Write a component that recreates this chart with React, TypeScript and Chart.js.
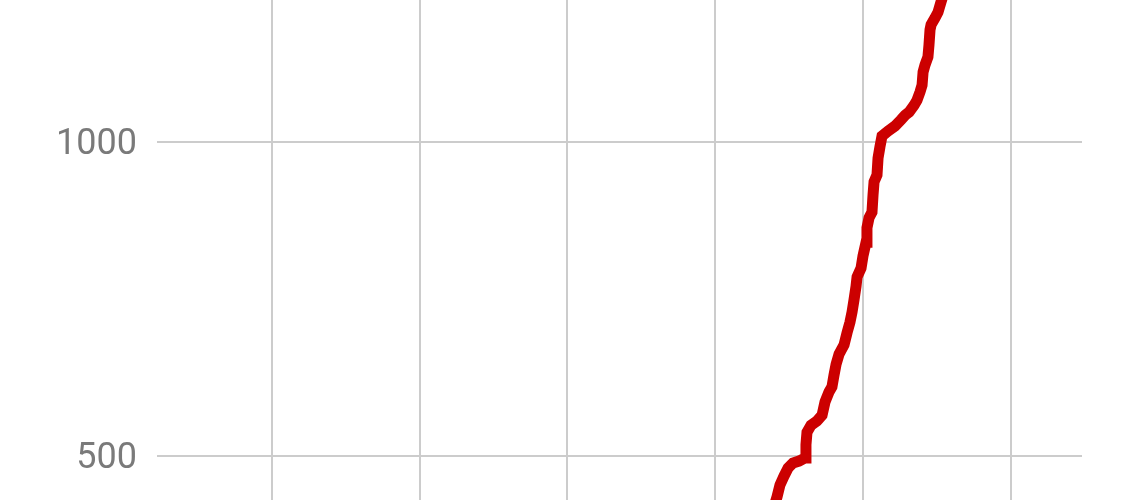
import React, { useEffect, useRef } from 'react';
import Chart from 'chart.js/auto';

// x positions in grid units (one vertical gridline every 100)
const xValues = [
  339.2, 341.9, 343.9, 346.6, 349.4, 352.7, 356.8, 360.9, 361.5, 362.2,
  364.9, 369.0, 372.4, 374.4, 377.1, 379.1, 380.5, 381.9, 383.9, 387.3,
  389.3, 391.3, 392.7, 394.0, 395.4, 396.1, 398.8, 400.1, 402.2, 402.8,
  404.2, 406.2, 406.9, 407.6, 409.6, 410.3, 411.6, 413.0, 417.1, 421.8,
  425.9, 428.6, 431.3, 434.7, 436.7, 438.7, 440.1, 440.8, 442.1, 444.1,
  444.8, 445.5, 446.2, 448.9, 450.9, 452.9, 455.0,
];

const yValues = [
  414, 435, 454, 468, 481, 489, 492, 497, 518, 538,
  549, 556, 565, 586, 602, 610, 629, 646, 662, 677,
  696, 713, 729, 748, 770, 785, 799, 818, 840, 863,
  879, 888, 915, 936, 947, 974, 992, 1009, 1017, 1025,
  1035, 1042, 1047, 1058, 1066, 1079, 1090, 1111, 1122, 1135,
  1154, 1178, 1186, 1197, 1206, 1222, 1238,
];

const xGridTicks = [0, 100, 200, 300, 400, 500];
const yTicks = [500, 1000];

const App: React.FC = () => {
  const chartRef = useRef<HTMLCanvasElement>(null);
  const chartInstance = useRef<Chart | null>(null);

  useEffect(() => {
    document.body.style.margin = '0';
    if (!chartRef.current) return;
    if (chartInstance.current) chartInstance.current.destroy();

    const ctx = chartRef.current.getContext('2d');
    if (!ctx) return;

    chartInstance.current = new Chart(ctx, {
      type: 'line',
      data: {
        datasets: [
          {
            data: xValues.map((x, i) => ({ x, y: yValues[i] })),
            borderColor: '#cc0000',
            borderWidth: 11,
            pointRadius: 0,
            tension: 0,
            fill: false,
          },
        ],
      },
      options: {
        animation: false,
        responsive: true,
        maintainAspectRatio: false,
        layout: { padding: { left: 0, top: 0, bottom: 0, right: 58 } },
        plugins: { legend: { display: false }, tooltip: { enabled: false } },
        scales: {
          x: {
            type: 'linear',
            bounds: 'data',
            min: -77.9,
            max: 548.4,
            afterBuildTicks: (scale) => {
              scale.ticks = xGridTicks.map(value => ({ value }));
            },
            grid: { color: '#cccccc', lineWidth: 2, drawTicks: false },
            border: { display: false },
            ticks: { display: false },
          },
          y: {
            type: 'linear',
            bounds: 'data',
            min: 430.1,
            max: 1225.4,
            afterBuildTicks: (scale) => {
              scale.ticks = yTicks.map(value => ({ value }));
            },
            afterFit: (scale) => {
              scale.width = 157;
              scale.paddingTop = 0;
              scale.paddingBottom = 0;
            },
            grid: { color: '#cccccc', lineWidth: 2, drawTicks: false },
            border: { display: false },
            ticks: {
              padding: 20,
              color: '#7a7a7a',
              font: { family: 'Roboto', size: 36, lineHeight: 0.17 },
              // empty first line nudges the number a few px below the gridline
              callback: (value) => ['', String(value)],
            },
          },
        },
      },
    });

    return () => {
      if (chartInstance.current) {
        chartInstance.current.destroy();
        chartInstance.current = null;
      }
    };
  }, []);

  return (
    <div style={{ width: '1140px', height: '500px', position: 'relative', background: '#fff' }}>
      <canvas ref={chartRef} />
    </div>
  );
};

export default App;
